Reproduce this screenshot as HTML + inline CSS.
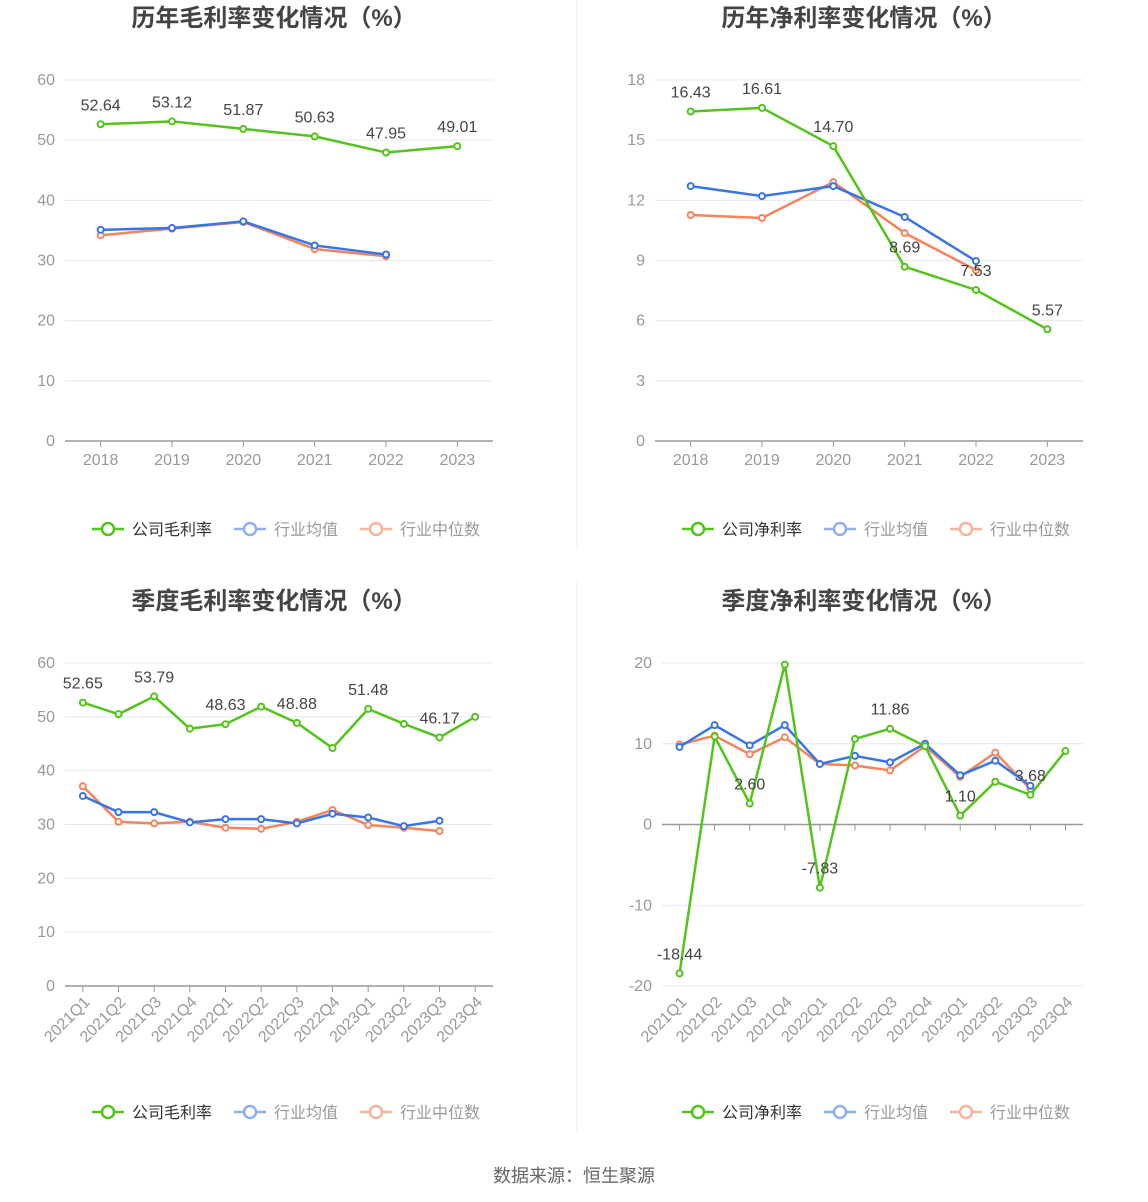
<!DOCTYPE html>
<html><head><meta charset="utf-8">
<style>
body{margin:0;background:#fff;width:1148px;height:1202px;overflow:hidden;font-family:"Liberation Sans","Noto Sans CJK SC",sans-serif;}
svg{position:absolute;left:0;top:0}
</style></head>
<body>
<svg id="s" width="1148" height="1202" font-family="Liberation Sans, Noto Sans CJK SC, sans-serif">
<line x1="577" y1="0" x2="577" y2="550" stroke="#eee"/>
<line x1="577" y1="582" x2="577" y2="1132" stroke="#eee"/>
<text x="574" y="1182" text-anchor="middle" font-size="18" fill="#666">数据来源：恒生聚源</text>
</svg>
<script>
const years=["2018","2019","2020","2021","2022","2023"];
const quarters=["2021Q1","2021Q2","2021Q3","2021Q4","2022Q1","2022Q2","2022Q3","2022Q4","2023Q1","2023Q2","2023Q3","2023Q4"];
const annualGrossCompany=[52.64,53.12,51.87,50.63,47.95,49.01];
const annualGrossAvg=[35.1,35.4,36.5,32.5,31.0];
const annualGrossMedian=[34.2,35.3,36.4,31.9,30.7];
const annualNetCompany=[16.43,16.61,14.70,8.69,7.53,5.57];
const annualNetAvg=[12.71,12.21,12.71,11.17,8.97];
const annualNetMedian=[11.27,11.12,12.91,10.37,8.52];
const qGrossCompany=[52.65,50.5,53.79,47.8,48.63,51.9,48.88,44.2,51.48,48.7,46.17,50.0];
const qGrossAvg=[35.3,32.3,32.3,30.4,31.0,31.0,30.2,32.0,31.3,29.7,30.7];
const qGrossMedian=[37.1,30.5,30.2,30.5,29.4,29.2,30.5,32.7,29.9,29.4,28.8];
const qNetCompany=[-18.44,10.9,2.60,19.8,-7.83,10.6,11.86,9.7,1.10,5.3,3.68,9.1];
const qNetAvg=[9.6,12.3,9.8,12.3,7.5,8.5,7.7,10.0,6.1,7.9,4.8];
const qNetMedian=[9.9,11.0,8.7,10.8,7.5,7.3,6.7,9.7,5.9,8.9,4.4];
const yTicksA=[0,10,20,30,40,50,60];
const yTicksB=[0,3,6,9,12,15,18];
const yTicksD=[-20,-10,0,10,20];

const NS="http://www.w3.org/2000/svg";
const svg=document.getElementById('s');
function mk(tag,attrs,parent){const e=document.createElementNS(NS,tag);for(const k in attrs)e.setAttribute(k,attrs[k]);(parent||svg).appendChild(e);return e;}
const GREEN="#52c41a",BLUE="#3a75e6",ORANGE="#f5845c";

function chart(o){
  const g=mk('g',{});
  
  
  const t=mk('text',{x:o.cx,y:o.titleY,'text-anchor':'middle','font-size':24,'font-weight':'bold',fill:'#444'},g);
  t.textContent=o.title;
  
  
  const lo=o.ticks[0],hi=o.ticks[o.ticks.length-1];
  const y=v=>o.y1-(v-lo)/(hi-lo)*(o.y1-o.y0);
  const n=o.cats.length,bw=(o.x1-o.x0)/n;
  const x=i=>o.x0+bw*(i+0.5);
  o.ticks.forEach(v=>{
    const gl=mk('line',{x1:o.x0,x2:o.x1,y1:y(v),y2:y(v),stroke:'#e6e8f2'},g);
    
    
    const tl=mk('text',{x:o.x0-10,y:y(v)+5,'text-anchor':'end','font-size':16,fill:'#999'},g);
    tl.textContent=v;
    
    
  });
  const ay=y(0);
  const ax=mk('line',{x1:o.x0,x2:o.x1,y1:ay,y2:ay,stroke:'#999','stroke-width':1.5},g);
  
  
  o.cats.forEach((c,i)=>{
    mk('line',{x1:x(i),x2:x(i),y1:ay,y2:ay+6,stroke:'#999'},g);
    const lt=mk('text',{'font-size':16,fill:'#999'},g);
    lt.textContent=c;
    
    
    if(o.rot){lt.setAttribute('text-anchor','end');lt.setAttribute('transform',`translate(${x(i)+8},${o.labelY}) rotate(-45)`);}
    else{lt.setAttribute('x',x(i));lt.setAttribute('y',o.labelY);lt.setAttribute('text-anchor','middle');}
  });
  const series=[[o.median,ORANGE,'series-industry-median'],[o.avg,BLUE,'series-industry-average'],[o.comp,GREEN,'series-company']];
  series.forEach(([d,col,nm])=>{
    const pl=mk('polyline',{points:d.map((v,i)=>x(i)+','+y(v)).join(' '),fill:'none',stroke:col,'stroke-width':2.5},g);
    
    
    d.forEach((v,i)=>{
      const c=mk('circle',{cx:x(i),cy:y(v),r:3,fill:'#fff',stroke:col,'stroke-width':2},g);
      
      
    });
  });
  o.comp.forEach((v,i)=>{
    if(o.labelIdx && !o.labelIdx.includes(i))return;
    const vt=mk('text',{x:x(i),y:y(v)-14,'text-anchor':'middle','font-size':16,fill:'#444'},g);
    vt.textContent=v.toFixed(2);
    
    
  });
  const items=[[o.legend,GREEN,'#333'],['行业均值','#8fb0ef','#999'],['行业中位数','#f7b49c','#999']];
  let lx=o.cx-182;
  const lg=mk('g',{},g);
  
  
  items.forEach(([lab,col,tc],k)=>{
    const eg=mk('g',{},lg);
    
    
    mk('line',{x1:lx,x2:lx+32,y1:o.legY,y2:o.legY,stroke:col,'stroke-width':2.5},eg);
    mk('circle',{cx:lx+16,cy:o.legY,r:6,fill:'#fff',stroke:col,'stroke-width':2.5},eg);
    const tt=mk('text',{x:lx+40,y:o.legY+6,'font-size':16,fill:tc},eg);
    tt.textContent=lab;
    lx+=40+lab.length*16+22;
  });
}
chart({name:'annual-gross-margin-chart',title:'历年毛利率变化情况（%）',cx:274,titleY:26,x0:65,x1:493,y0:80,y1:441,ticks:yTicksA,cats:years,comp:annualGrossCompany,avg:annualGrossAvg,median:annualGrossMedian,labelY:465,legend:'公司毛利率',legY:529});
chart({name:'annual-net-margin-chart',title:'历年净利率变化情况（%）',cx:864,titleY:26,x0:655,x1:1083,y0:80,y1:441,ticks:yTicksB,cats:years,comp:annualNetCompany,avg:annualNetAvg,median:annualNetMedian,labelY:465,legend:'公司净利率',legY:529});
chart({name:'quarterly-gross-margin-chart',title:'季度毛利率变化情况（%）',cx:274,titleY:609,x0:65,x1:493,y0:663,y1:986,ticks:yTicksA,cats:quarters,comp:qGrossCompany,avg:qGrossAvg,median:qGrossMedian,labelY:1003,rot:true,labelIdx:[0,2,4,6,8,10],legend:'公司毛利率',legY:1112});
chart({name:'quarterly-net-margin-chart',title:'季度净利率变化情况（%）',cx:864,titleY:609,x0:662,x1:1083,y0:663,y1:986,ticks:yTicksD,cats:quarters,comp:qNetCompany,avg:qNetAvg,median:qNetMedian,labelY:1003,rot:true,labelIdx:[0,2,4,6,8,10],legend:'公司净利率',legY:1112});
</script>
</body></html>
